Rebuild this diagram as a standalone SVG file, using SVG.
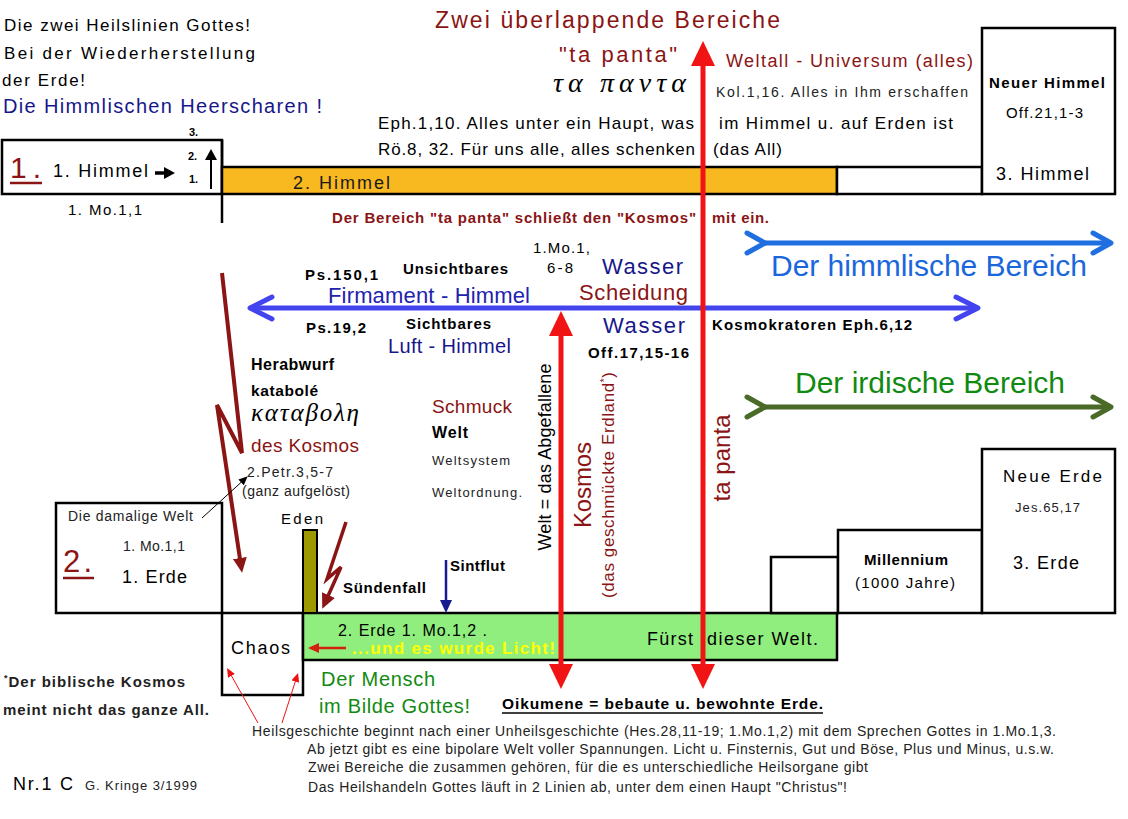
<svg xmlns="http://www.w3.org/2000/svg" width="1128" height="819" viewBox="0 0 1128 819">
<style>
text{font-family:"Liberation Sans",Arial,Helvetica,sans-serif}
.b{font-weight:bold}
.dr{fill:#8b1414}
.nv{fill:#17178a}
.gr{fill:#118a11}
.gk{font-family:"Liberation Serif","DejaVu Serif",serif;font-style:italic}
.th{fill:#222}
.box{fill:#fff;stroke:#000;stroke-width:2.5}
.ln{fill:none;stroke-linecap:butt}
</style>
<defs>
<marker id="mRed" markerUnits="userSpaceOnUse" markerWidth="26" markerHeight="24" viewBox="0 0 26 24" refX="1" refY="12" orient="auto-start-reverse"><path d="M0,0 L25,12 L0,24 z" fill="#f01414"/></marker>
<marker id="mFirm" markerUnits="userSpaceOnUse" markerWidth="30" markerHeight="30" viewBox="0 0 30 30" refX="26" refY="15" orient="auto-start-reverse"><path d="M4,4 L26,15 L4,26" fill="none" stroke="#4444ee" stroke-width="5" stroke-linecap="round" stroke-linejoin="round"/></marker>
<marker id="mHim" markerUnits="userSpaceOnUse" markerWidth="28" markerHeight="30" viewBox="0 0 28 30" refX="22" refY="15" orient="auto"><path d="M4,5 L22,15 L4,25" fill="none" stroke="#1f6fe0" stroke-width="5" stroke-linecap="round" stroke-linejoin="round"/></marker>
<marker id="mIrd" markerUnits="userSpaceOnUse" markerWidth="28" markerHeight="30" viewBox="0 0 28 30" refX="22" refY="15" orient="auto"><path d="M4,5 L22,15 L4,25" fill="none" stroke="#4a6a28" stroke-width="5" stroke-linecap="round" stroke-linejoin="round"/></marker>
<marker id="mBolt" markerUnits="userSpaceOnUse" markerWidth="16" markerHeight="16" viewBox="0 0 16 16" refX="1" refY="8" orient="auto"><path d="M0,1 L15,8 L0,15 z" fill="#8b1414"/></marker>
<marker id="mNavy" markerUnits="userSpaceOnUse" markerWidth="14" markerHeight="12" viewBox="0 0 14 12" refX="1" refY="6" orient="auto"><path d="M0,0 L13,6 L0,12 z" fill="#1a1a90"/></marker>
<marker id="mRedS" markerUnits="userSpaceOnUse" markerWidth="12" markerHeight="10" viewBox="0 0 12 10" refX="1" refY="5" orient="auto"><path d="M0,0 L11,5 L0,10 z" fill="#d42010"/></marker>
<marker id="mRedT" markerUnits="userSpaceOnUse" markerWidth="10" markerHeight="8" viewBox="0 0 10 8" refX="1" refY="4" orient="auto"><path d="M0,0 L9,4 L0,8 z" fill="#ee1111"/></marker>
<marker id="mBlkT" markerUnits="userSpaceOnUse" markerWidth="10" markerHeight="8" viewBox="0 0 10 8" refX="1" refY="4" orient="auto"><path d="M0,0 L9,4 L0,8 z" fill="#000"/></marker>
<marker id="mBlk" markerUnits="userSpaceOnUse" markerWidth="12" markerHeight="12" viewBox="0 0 12 12" refX="1" refY="6" orient="auto"><path d="M0,0 L11,6 L0,12 z" fill="#000"/></marker>
</defs>
<rect x="0" y="0" width="1128" height="819" fill="#fff"/>

<!-- nodes: shapes -->
<g id="node-himmel1">
<rect class="box" x="2" y="140" width="220" height="54"/>
<line x1="222" y1="140" x2="222" y2="223" stroke="#000" stroke-width="2.5"/>
</g>
<g id="node-himmel2">
<rect x="222" y="167" width="615" height="27" fill="#f7b820" stroke="#000" stroke-width="2.5"/>
<rect class="box" x="837" y="167" width="145" height="27"/>
</g>
<g id="node-himmel3">
<rect class="box" x="982" y="28" width="133" height="166"/>
</g>
<g id="node-erde1">
<rect class="box" x="56" y="503" width="166" height="110"/>
</g>
<g id="node-chaos">
<rect class="box" x="222" y="613" width="81" height="82"/>
</g>
<g id="node-erde2">
<rect x="303" y="613" width="534" height="47" fill="#90ee7e" stroke="#000" stroke-width="2.5"/>
</g>
<g id="node-eden">
<rect x="303" y="530" width="14" height="83" fill="#9c9a00" stroke="#000" stroke-width="2"/>
</g>
<g id="node-step">
<rect class="box" x="771" y="557" width="67" height="56"/>
</g>
<g id="node-millennium">
<rect class="box" x="838" y="530" width="144" height="83"/>
</g>
<g id="node-erde3">
<rect class="box" x="982" y="449" width="133" height="164"/>
</g>

<!-- connectors -->
<g id="connectors">
<line class="ln" x1="250" y1="308" x2="978" y2="308" stroke="#4444ee" stroke-width="5" marker-start="url(#mFirm)" marker-end="url(#mFirm)"/>
<line class="ln" x1="765" y1="243" x2="1111" y2="243" stroke="#1f6fe0" stroke-width="5" marker-start="url(#mHim)" marker-end="url(#mHim)"/>
<line class="ln" x1="765" y1="407" x2="1111" y2="407" stroke="#4a6a28" stroke-width="5" marker-start="url(#mIrd)" marker-end="url(#mIrd)"/>
<line class="ln" x1="703" y1="65" x2="703" y2="665" stroke="#f01414" stroke-width="5" marker-start="url(#mRed)" marker-end="url(#mRed)"/>
<line class="ln" x1="561" y1="335" x2="561" y2="665" stroke="#f01414" stroke-width="5" marker-start="url(#mRed)" marker-end="url(#mRed)"/>
<polyline class="ln" points="222,273 242,453 217,405 240,559" stroke="#8b1414" stroke-width="4" stroke-linejoin="miter" marker-end="url(#mBolt)"/>
<polyline class="ln" points="346,522 327,579 341,567 328,596" stroke="#8b1414" stroke-width="3.5" stroke-linejoin="miter" marker-end="url(#mBolt)"/>
<line class="ln" x1="446" y1="560" x2="446" y2="601" stroke="#1a1a90" stroke-width="2.5" marker-end="url(#mNavy)"/>
<line class="ln" x1="346" y1="648" x2="318" y2="648" stroke="#d42010" stroke-width="2.5" marker-end="url(#mRedS)"/>
<line class="ln" x1="258" y1="723" x2="231" y2="675" stroke="#ee1111" stroke-width="1" marker-end="url(#mRedT)"/>
<line class="ln" x1="282" y1="723" x2="295.6" y2="680.6" stroke="#ee1111" stroke-width="1" marker-end="url(#mRedT)"/>
<line class="ln" x1="202" y1="518" x2="241.8" y2="481.7" stroke="#000" stroke-width="1" marker-end="url(#mBlkT)"/>
<line class="ln" x1="155" y1="173" x2="165" y2="173" stroke="#000" stroke-width="3.5" marker-end="url(#mBlk)"/>
<line class="ln" x1="211" y1="189" x2="211" y2="159" stroke="#000" stroke-width="2" marker-end="url(#mBlk)"/>
</g>

<!-- texts -->
<g id="node-header">
<text x="4" y="31" font-size="17" textLength="246">Die zwei Heilslinien Gottes!</text>
<text x="4" y="59" font-size="17" textLength="251">Bei der Wiederherstellung</text>
<text x="2" y="86" font-size="17" textLength="83">der Erde!</text>
<text class="nv" x="3" y="113" font-size="20" textLength="319">Die Himmlischen Heerscharen !</text>
<text class="dr" x="435" y="28" font-size="23" textLength="345">Zwei überlappende Bereiche</text>
<text class="dr" x="559" y="62" font-size="22" textLength="118">"ta panta"</text>
<text class="gk" x="553" y="92" font-size="28" textLength="133">τα παντα</text>
<text x="378" y="129" font-size="17" textLength="316">Eph.1,10. Alles unter ein Haupt, was</text>
<text x="378" y="155" font-size="17" textLength="317">Rö.8, 32. Für uns alle, alles schenken</text>
<text x="719" y="129" font-size="17" textLength="234">im  Himmel u. auf Erden ist</text>
<text x="713" y="155" font-size="17" textLength="69">(das All)</text>
<text class="dr" x="726" y="67" font-size="18" textLength="247">Weltall - Universum (alles)</text>
<text class="th" x="716" y="97" font-size="14" textLength="252">Kol.1,16. Alles in Ihm erschaffen</text>
<text class="dr b" font-size="15"><tspan x="332" y="223" textLength="364">Der Bereich "ta panta" schließt den "Kosmos"</tspan><tspan x="712" y="223" textLength="57">mit ein.</tspan></text>
</g>
<g id="node-himmel1-text">
<text class="dr" x="10" y="178" font-size="30" textLength="31">1.</text>
<line x1="10" y1="183" x2="42" y2="183" stroke="#8b1414" stroke-width="2.5"/>
<text x="53" y="177" font-size="18" textLength="95">1. Himmel</text>
<text class="b" x="189" y="136" font-size="11">3.</text>
<text class="b" x="188" y="160" font-size="11">2.</text>
<text class="b" x="189" y="183" font-size="11">1.</text>
<text x="68" y="215" font-size="15" textLength="74">1. Mo.1,1</text>
<text x="293" y="189" font-size="18" textLength="97" style="fill:#1a1a1a">2. Himmel</text>
</g>
<g id="node-himmel3-text">
<text class="b" x="989" y="88" font-size="15" textLength="116">Neuer Himmel</text>
<text x="1006" y="118" font-size="15" textLength="77">Off.21,1-3</text>
<text x="996" y="180" font-size="18" textLength="93">3. Himmel</text>
</g>
<g id="node-firmament">
<text x="533" y="253" font-size="15" textLength="57">1.Mo.1,</text>
<text x="547" y="273" font-size="15" textLength="26">6-8</text>
<text class="b" x="305" y="280" font-size="15" textLength="73">Ps.150,1</text>
<text class="b" x="403" y="274" font-size="15" textLength="105">Unsichtbares</text>
<text class="nv" x="602" y="274" font-size="22" textLength="81">Wasser</text>
<text x="328" y="303" font-size="22" textLength="202" style="fill:#2222b0">Firmament - Himmel</text>
<text class="dr" x="579" y="300" font-size="22" textLength="109">Scheidung</text>
<text class="b" x="306" y="333" font-size="15" textLength="60">Ps.19,2</text>
<text class="b" x="406" y="329" font-size="15" textLength="85">Sichtbares</text>
<text class="nv" x="603" y="333" font-size="22" textLength="82">Wasser</text>
<text class="nv" x="388" y="353" font-size="20" textLength="123">Luft - Himmel</text>
<text class="b" x="588" y="358" font-size="15" textLength="101">Off.17,15-16</text>
<text class="b" x="712" y="330" font-size="15" textLength="200">Kosmokratoren  Eph.6,12</text>
</g>
<g id="node-bereiche">
<text x="771" y="276" font-size="30" textLength="316" style="fill:#1a66dd">Der himmlische Bereich</text>
<text class="gr" x="795" y="393" font-size="30" textLength="270">Der irdische Bereich</text>
</g>
<g id="node-herabwurf">
<text class="b" x="251" y="370" font-size="16" textLength="83">Herabwurf</text>
<text class="b" x="251" y="396" font-size="15.5" textLength="67">katabolé</text>
<text class="gk" x="251" y="421" font-size="25" textLength="108">καταβολη</text>
<text class="dr" x="251" y="452" font-size="19" textLength="108">des Kosmos</text>
<text class="th" x="247" y="477" font-size="14" textLength="86">2.Petr.3,5-7</text>
<text class="th" x="242" y="496" font-size="14" textLength="108">(ganz aufgelöst)</text>
</g>
<g id="node-schmuck">
<text class="dr" x="432" y="413" font-size="19" textLength="80">Schmuck</text>
<text class="b" x="432" y="438" font-size="16" textLength="36">Welt</text>
<text class="th" x="432" y="465" font-size="13" textLength="78">Weltsystem</text>
<text class="th" x="432" y="497" font-size="13" textLength="90">Weltordnung.</text>
</g>
<g id="node-vertical-labels">
<text transform="translate(551,457) rotate(-90)" text-anchor="middle" font-size="18" textLength="187">Welt = das Abgefallene</text>
<text class="dr" transform="translate(591,485) rotate(-90)" text-anchor="middle" font-size="24" textLength="86">Kosmos</text>
<text class="dr" transform="translate(614,485) rotate(-90)" text-anchor="middle" font-size="17" textLength="226">(das geschmückte Erdland<tspan font-size="10" dy="-6">*</tspan><tspan dy="6">)</tspan></text>
<text class="dr" transform="translate(730,458) rotate(-90)" text-anchor="middle" font-size="24" textLength="87">ta panta</text>
</g>
<g id="node-erde1-text">
<text class="th" x="68" y="521" font-size="14" textLength="125">Die damalige Welt</text>
<text class="dr" x="63" y="572" font-size="31" textLength="29">2.</text>
<line x1="63" y1="578" x2="94" y2="578" stroke="#8b1414" stroke-width="2.5"/>
<text class="th" x="123" y="551" font-size="14" textLength="62">1. Mo.1,1</text>
<text x="122" y="583" font-size="18" textLength="65">1. Erde</text>
</g>
<g id="node-eden-text">
<text x="281" y="524" font-size="15" textLength="42">Eden</text>
<text class="b" x="343" y="593" font-size="15" textLength="83">Sündenfall</text>
<text class="b" x="450" y="571" font-size="15" textLength="55">Sintflut</text>
</g>
<g id="node-erde2-text">
<text x="231" y="654" font-size="18" textLength="59">Chaos</text>
<text x="338" y="636" font-size="16" textLength="149">2. Erde 1. Mo.1,2 .</text>
<text class="b" x="352" y="654" font-size="17" textLength="203" style="fill:#ffff00">...und es wurde Licht!</text>
<text font-size="18"><tspan x="647" y="645" textLength="46">Fürst</tspan><tspan x="707" y="645" textLength="111">dieser Welt.</tspan></text>
<text class="gr" x="321" y="686" font-size="20" textLength="114">Der Mensch</text>
<text class="gr" x="319" y="713" font-size="20" textLength="151">im Bilde Gottes!</text>
<text class="b" x="502" y="709" font-size="15.5" textLength="321">Oikumene = bebaute u. bewohnte Erde.</text>
<line x1="502" y1="713" x2="823" y2="713" stroke="#000" stroke-width="1.5"/>
</g>
<g id="node-erde3-text">
<text x="1003" y="482" font-size="17" textLength="99">Neue Erde</text>
<text class="th" x="1015" y="512" font-size="13" textLength="65">Jes.65,17</text>
<text class="b" x="864" y="565" font-size="15" textLength="84">Millennium</text>
<text x="855" y="588" font-size="15" textLength="100">(1000 Jahre)</text>
<text x="1013" y="569" font-size="18" textLength="66">3. Erde</text>
</g>
<g id="node-footer">
<text class="b th" x="4" y="687" font-size="15" textLength="181"><tspan font-size="9" dy="-6">*</tspan><tspan dy="6">Der biblische Kosmos</tspan></text>
<text class="b th" x="3" y="715" font-size="15" textLength="206">meint nicht das ganze All.</text>
<text class="th" x="252" y="736" font-size="14" textLength="804">Heilsgeschichte beginnt nach einer Unheilsgeschichte (Hes.28,11-19; 1.Mo.1,2) mit dem Sprechen Gottes in 1.Mo.1,3.</text>
<text class="th" x="307" y="754" font-size="14" textLength="747">Ab jetzt gibt es eine bipolare Welt voller Spannungen. Licht u. Finsternis, Gut und Böse, Plus und Minus, u.s.w.</text>
<text class="th" x="308" y="772" font-size="14" textLength="560">Zwei Bereiche die zusammen gehören, für die es unterschiedliche Heilsorgane gibt</text>
<text class="th" x="308" y="792" font-size="14" textLength="539">Das Heilshandeln Gottes läuft in 2 Linien ab, unter dem einen Haupt "Christus"!</text>
<text x="13" y="790" font-size="18" textLength="60">Nr.1 C</text>
<text class="th" x="85" y="790" font-size="13" textLength="112">G. Kringe 3/1999</text>
</g>
</svg>
